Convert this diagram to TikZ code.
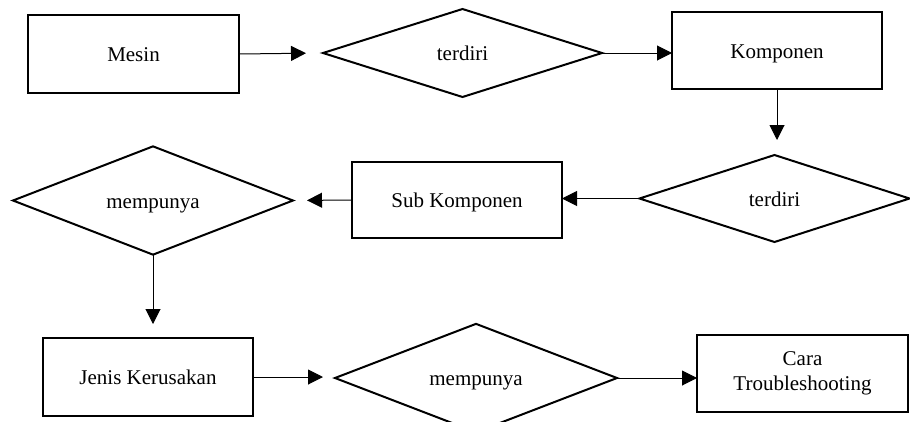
\documentclass[tikz,border=0pt]{standalone}
\usepackage{fontspec}
\setmainfont{Liberation Serif}
\usetikzlibrary{shapes.geometric,arrows.meta}
\begin{document}
\begin{tikzpicture}[x=1pt,y=-1pt,
  entity/.style={draw,line width=2pt,rectangle,inner sep=0pt,outer sep=0pt,align=center,font=\fontsize{21}{25}\selectfont},
  relation/.style={draw,line width=2pt,diamond,inner sep=0pt,outer sep=0pt,font=\fontsize{21}{25}\selectfont},
  oneline/.style={text height=15pt,text depth=0pt},
  link/.style={line width=1pt,-{Triangle[length=15pt,width=15pt]}}]
\useasboundingbox (0,0) rectangle (910,421);
\node[entity,oneline,minimum width=211pt,minimum height=78pt] (mesin) at (133.5,54) {Mesin};
\node[relation,oneline,minimum width=279pt,minimum height=88pt] (d1) at (462.5,53) {terdiri};
\node[entity,oneline,minimum width=210pt,minimum height=77pt] (komp) at (777,50.5) {Komponen};
\node[relation,oneline,minimum width=270pt,minimum height=87pt] (d2) at (774.5,198.5) {terdiri};
\node[entity,oneline,minimum width=210pt,minimum height=76pt] (sub) at (457,200) {Sub Komponen};
\node[relation,oneline,minimum width=280pt,minimum height=87pt] (d3) at (153,200.5) {mempunya};
\node[entity,oneline,minimum width=210pt,minimum height=78pt] (jenis) at (148,377) {Jenis Kerusakan};
\node[relation,oneline,minimum width=282pt,minimum height=88pt] (d4) at (476,378) {mempunya};
\node[entity,minimum width=211pt,minimum height=77pt] (cara) at (802.5,373.5) {Cara\\Troubleshooting};
\draw[link,shorten >=17pt] (mesin.east) -- (d1.west);
\draw[link] (d1.east) -- (d1.east -| komp.west);
\draw[link,shorten >=15pt] (komp.south) -- (komp.south |- d2.north);
\draw[link] (d2.west) -- (d2.west -| sub.east);
\draw[link,shorten >=14pt] (sub.west) -- (d3.east);
\draw[link,shorten >=14pt] (d3.south) -- (d3.south |- jenis.north);
\draw[link,shorten >=12pt] (jenis.east) -- (jenis.east -| d4.west);
\draw[link] (d4.east) -- (d4.east -| cara.west);
\end{tikzpicture}
\end{document}
